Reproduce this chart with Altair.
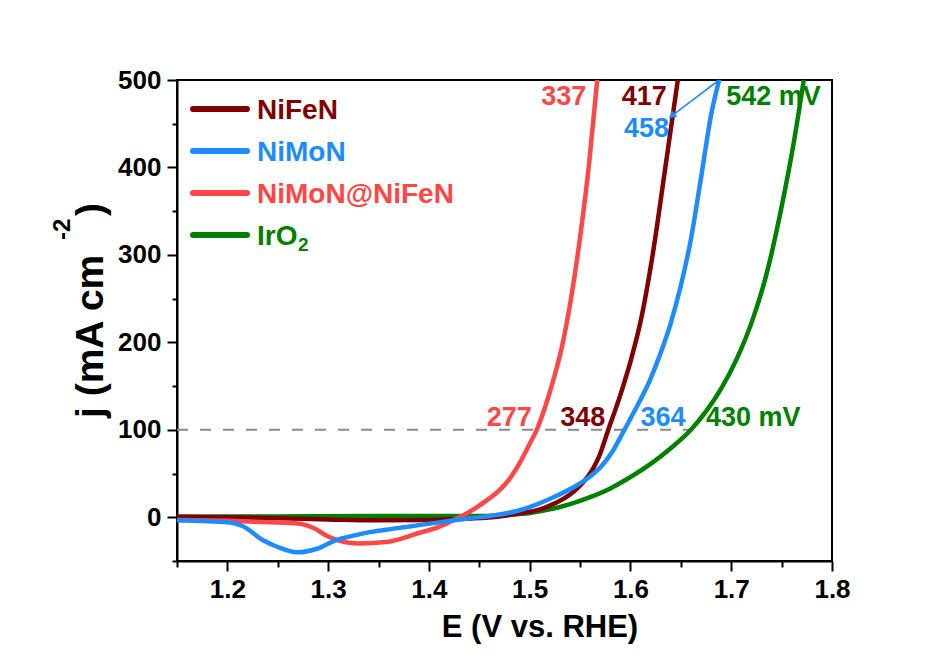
import altair as alt
import pandas as pd

FONT = "Liberation Sans"

# Sample names, line colours (drawn bottom to top: IrO2, NiFeN, NiMoN@NiFeN, NiMoN)
series = ["NiFeN", "NiMoN", "NiMoN@NiFeN", "IrO2"]
colors = {"NiFeN": "#800000", "NiMoN": "#1E8CFF", "NiMoN@NiFeN": "#FF4747", "IrO2": "#008000"}

# LSV polarisation curves: potential E (V vs. RHE) and current density j (mA cm-2)
nifen_e = [1.15, 1.20, 1.25, 1.30, 1.35, 1.40, 1.44, 1.47, 1.49, 1.51, 1.525, 1.54,
           1.548, 1.556, 1.563, 1.569, 1.578, 1.590, 1.600, 1.611, 1.622, 1.634, 1.647]
nifen_j = [0.5, 0, -1, -2.5, -3.5, -3, -1.5, 1, 4.5, 9, 16, 26,
           34, 44, 56, 70, 100, 140, 178, 229, 300, 395, 500]

nimon_e = [1.15, 1.18, 1.203, 1.215, 1.235, 1.25, 1.269, 1.289, 1.308, 1.325, 1.341,
           1.365, 1.39, 1.415, 1.44, 1.457, 1.49, 1.522, 1.546, 1.558, 1.570, 1.582,
           1.594, 1.607, 1.619, 1.630, 1.640, 1.650, 1.660, 1.670, 1.680, 1.688]
nimon_j = [-3.5, -4.5, -6, -10, -26, -34, -40, -36, -26, -21, -17,
           -13, -9, -5, -1, 1, 8, 22, 36, 45, 57, 75,
           100, 128, 156, 188, 222, 265, 318, 388, 460, 500]

core_e = [1.15, 1.20, 1.25, 1.27, 1.285, 1.30, 1.315, 1.33, 1.36, 1.39, 1.41, 1.425,
          1.44, 1.457, 1.47, 1.48, 1.49, 1.50, 1.507, 1.515, 1.523, 1.532, 1.541, 1.55,
          1.559, 1.567]
core_j = [-3, -4, -6, -7, -12, -22, -28, -30, -28, -18, -11, -3,
          6, 19, 31, 44, 62, 84, 100, 125, 155, 195, 250, 320,
          405, 500]

iro2_e = [1.15, 1.25, 1.35, 1.45, 1.48, 1.50, 1.52, 1.54, 1.56, 1.58, 1.60, 1.62,
          1.64, 1.66, 1.675, 1.69, 1.705, 1.72, 1.735, 1.75, 1.762, 1.772]
iro2_j = [0.5, 1, 1.5, 1.5, 3, 5, 9, 15, 23, 33, 46, 61,
          79, 100, 121, 147, 180, 222, 278, 355, 428, 500]

curves = {
    "NiFeN": (nifen_e, nifen_j),
    "NiMoN": (nimon_e, nimon_j),
    "NiMoN@NiFeN": (core_e, core_j),
    "IrO2": (iro2_e, iro2_j),
}

# Overpotentials (mV) at 100 and 500 mA cm-2
eta_100 = {"NiFeN": 348, "NiMoN": 364, "NiMoN@NiFeN": 277, "IrO2": 430}
eta_500 = {"NiFeN": 417, "NiMoN": 458, "NiMoN@NiFeN": 337, "IrO2": 542}
E_REV = 1.23

x_ticks = [round(1.15 + 0.05 * i, 2) for i in range(14)]
y_ticks = list(range(-50, 501, 50))

x_scale = alt.Scale(domain=[1.15, 1.8], nice=False, zero=False)
y_scale = alt.Scale(domain=[-50, 500], nice=False, zero=False)

major_x = "abs(round(datum.value*10) - datum.value*10) < 0.01"
major_y = "datum.value % 100 === 0"

x_axis = alt.Axis(
    values=x_ticks, title=None, grid=False,
    labelExpr=f"{major_x} ? format(datum.value, '.1f') : ''",
    tickSize={"condition": {"test": major_x, "value": 10}, "value": 6},
    tickWidth=2, tickColor="black", domainWidth=2, domainColor="black",
    labelFont=FONT, labelFontWeight="bold", labelFontSize=26, labelColor="black",
    labelPadding=5, labelOverlap=False, labelFlush=False,
)
y_axis = alt.Axis(
    values=y_ticks, title=None, grid=False,
    labelExpr=f"{major_y} ? datum.label : ''",
    tickSize={"condition": {"test": major_y, "value": 10}, "value": 5},
    tickWidth=2, tickColor="black", domainWidth=2, domainColor="black",
    labelFont=FONT, labelFontWeight="bold", labelFontSize=26, labelColor="black",
    labelPadding=6, labelOverlap=False, labelFlush=False,
)

layers = []

# Reference level at 100 mA cm-2, ending at the IrO2 curve
ref_df = pd.DataFrame({"e0": [1.15], "e1": [E_REV + eta_100["IrO2"] / 1000], "j": [100]})
layers.append(
    alt.Chart(ref_df).mark_rule(color="#8A8A8A", strokeWidth=2, strokeDash=[11, 12]).encode(
        x=alt.X("e0:Q", scale=x_scale, axis=x_axis), x2="e1:Q",
        y=alt.Y("j:Q", scale=y_scale, axis=y_axis),
    )
)

for name in ["IrO2", "NiFeN", "NiMoN@NiFeN", "NiMoN"]:
    e, j = curves[name]
    df = pd.DataFrame({"E": e, "j": j, "i": range(len(e))})
    layers.append(
        alt.Chart(df).mark_line(color=colors[name], strokeWidth=4.5, clip=True,
                                interpolate="monotone",
                                strokeJoin="round", strokeCap="round").encode(
            x=alt.X("E:Q", scale=x_scale, axis=x_axis),
            y=alt.Y("j:Q", scale=y_scale, axis=y_axis),
            order="i:Q",
        )
    )

# Overpotential labels: (sample, current level, suffix, align, dx, dy)
label_layout = [
    ("NiMoN@NiFeN", 500, "", "right", -11, 25),
    ("NiFeN", 500, "", "right", -11, 25),
    ("NiMoN", 500, "", "right", -50, 57),
    ("IrO2", 500, " mV", "right", 17, 25),
    ("NiMoN@NiFeN", 100, "", "right", -5, -4),
    ("NiFeN", 100, "", "right", -3, -4),
    ("NiMoN", 100, "", "left", 16, -4),
    ("IrO2", 100, " mV", "left", 15, -4),
]
for name, level, suffix, align, dx, dy in label_layout:
    eta = eta_500[name] if level == 500 else eta_100[name]
    df = pd.DataFrame({"E": [E_REV + eta / 1000], "j": [level], "t": [f"{eta}{suffix}"]})
    layers.append(
        alt.Chart(df).mark_text(font=FONT, fontWeight="bold", fontSize=27, color=colors[name],
                                align=align, baseline="alphabetic", dx=dx, dy=dy).encode(
            x=alt.X("E:Q", scale=x_scale, axis=x_axis),
            y=alt.Y("j:Q", scale=y_scale, axis=y_axis),
            text="t:N",
        )
    )

# Arrow from the NiMoN curve top to its 458 label
arrow_tip = (1.641, 459)
arrow_df = pd.DataFrame({"e0": [E_REV + eta_500["NiMoN"] / 1000], "j0": [500],
                         "e1": [arrow_tip[0]], "j1": [arrow_tip[1]]})
layers.append(
    alt.Chart(arrow_df).mark_rule(color=colors["NiMoN"], strokeWidth=1.6).encode(
        x=alt.X("e0:Q", scale=x_scale, axis=x_axis), x2="e1:Q",
        y=alt.Y("j0:Q", scale=y_scale, axis=y_axis), y2="j1:Q",
    )
)
layers.append(
    alt.Chart(arrow_df).mark_point(shape="triangle-up", filled=True, size=70, angle=230,
                                   color=colors["NiMoN"], opacity=1).encode(
        x=alt.X("e1:Q", scale=x_scale, axis=x_axis),
        y=alt.Y("j1:Q", scale=y_scale, axis=y_axis),
    )
)

# Legend drawn inside the plot, top-left
legend_rows = [29, 71, 113, 155]
for name, row in zip(series, legend_rows):
    layers.append(
        alt.Chart(pd.DataFrame({"k": [0]})).mark_rule(color=colors[name], strokeWidth=6,
                                                      strokeCap="round").encode(
            x=alt.value(16), x2=alt.value(70), y=alt.value(row),
        )
    )
    label = "IrO" if name == "IrO2" else name
    layers.append(
        alt.Chart(pd.DataFrame({"k": [0]})).mark_text(
            text=label, font=FONT, fontWeight="bold", fontSize=28, color=colors[name],
            align="left", baseline="alphabetic").encode(
            x=alt.value(80), y=alt.value(row + 10),
        )
    )
    if name == "IrO2":
        layers.append(
            alt.Chart(pd.DataFrame({"k": [0]})).mark_text(
                text="2", font=FONT, fontWeight="bold", fontSize=19, color=colors[name],
                align="left", baseline="alphabetic").encode(
                x=alt.value(121), y=alt.value(row + 16),
            )
        )

# Axis titles
title_parts = [
    ("E (V vs. RHE)", 31, 0, 363, 557, "center"),
    ("j (mA cm", 39, 270, -74, 338, "left"),
    ("-2", 24, 270, -107, 160, "left"),
    (")", 39, 270, -74, 136, "left"),
]
for txt, size, ang, px, py, al in title_parts:
    layers.append(
        alt.Chart(pd.DataFrame({"k": [0]})).mark_text(
            text=txt, font=FONT, fontWeight="bold", fontSize=size, color="black",
            angle=ang, align=al, baseline="alphabetic").encode(
            x=alt.value(px), y=alt.value(py),
        )
    )

chart = alt.layer(*layers).properties(
    width=655, height=481,
    autosize=alt.AutoSizeParams(type="none"),
    padding={"left": 177, "top": 80, "right": 118, "bottom": 102},
    background="white",
).configure_view(stroke="black", strokeWidth=2)

chart.save("out.html", embed_options={"renderer": "svg", "actions": False})
